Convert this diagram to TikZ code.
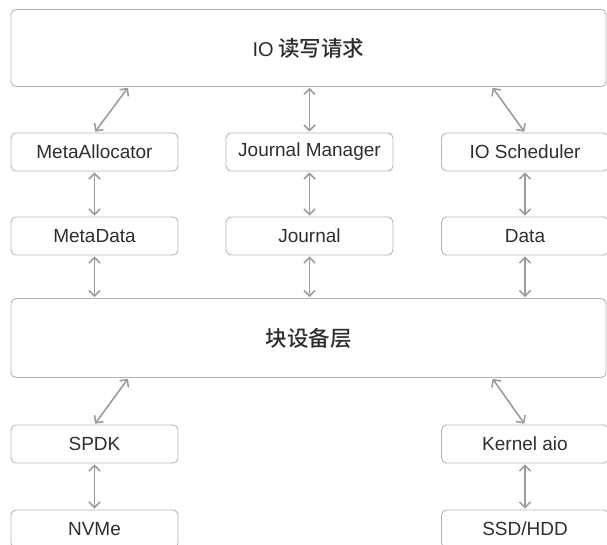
\documentclass[tikz,border=0pt]{standalone}
\usepackage{fontspec}
\setmainfont{Liberation Sans}
\newfontfamily\cjk{Noto Sans CJK SC}[UprightFont={* Medium}]
\usetikzlibrary{arrows.meta,calc}

\definecolor{boxline}{HTML}{B4B4B4}
\definecolor{linkline}{HTML}{9C9C9C}
\definecolor{labeltext}{HTML}{2E2E2E}

\begin{document}
\begin{tikzpicture}[x=1pt,y=-1pt,
box/.style={
rectangle,
draw=boxline,
line width=0.9pt,
rounded corners=5pt,
text=labeltext,
font=\fontsize{19}{22}\selectfont,
minimum width=167pt,
minimum height=38pt
},
layer/.style={
box,
minimum width=595pt,
minimum height=77pt,
font=\fontsize{21.5}{24}\selectfont\cjk
},
link/.style={
{Straight Barb[length=5.5pt,width=11pt]}-{Straight Barb[length=5.5pt,width=11pt]},
draw=linkline,
line width=1.6pt,
shorten <=1pt,
shorten >=1pt
},
]
\useasboundingbox (0,0) rectangle (607,545);
\clip (0,0) rectangle (607,545);

% top and middle layers
\node (req) [layer] at (308.5,48) {{\fontsize{20}{24}\rmfamily IO} 读写请求};
\node (blk) [layer, minimum height=79pt] at (308.5,338) {块设备层};

% column boxes
\node (alloc) [box] at (94.5,152) {MetaAllocator};
\node (jmgr) [box] at (309.5,152) {Journal Manager};
\node (sched) [box] at (525,152) {IO Scheduler};
\node (meta) [box] at (94.5,236) {MetaData};
\node (journal) [box] at (309.5,236) {Journal};
\node (data) [box] at (525,236) {Data};

% drivers and devices
\node (spdk) [box] at (94.5,444) {SPDK};
\node (aio) [box] at (525,444) {Kernel aio};
\node (nvme) [box] at (94.5,529) {NVMe};
\node (ssd) [box] at (525,529) {SSD/HDD};

\draw[link] ($(alloc.north |- req.south)+(34,0)$) -- (alloc.north);
\draw[link] (jmgr.north |- req.south) -- (jmgr.north);
\draw[link] ($(sched.north |- req.south)+(-33,0)$) -- (sched.north);
\draw[link] (alloc) -- (meta);
\draw[link] (jmgr) -- (journal);
\draw[link] (sched) -- (data);
\draw[link] (meta.south) -- (meta.south |- blk.north);
\draw[link] (journal.south) -- (journal.south |- blk.north);
\draw[link] (data.south) -- (data.south |- blk.north);
\draw[link] ($(spdk.north |- blk.south)+(34,0)$) -- (spdk.north);
\draw[link] ($(aio.north |- blk.south)+(-33,0)$) -- (aio.north);
\draw[link] (spdk) -- (nvme);
\draw[link] (aio) -- (ssd);
\end{tikzpicture}
\end{document}
